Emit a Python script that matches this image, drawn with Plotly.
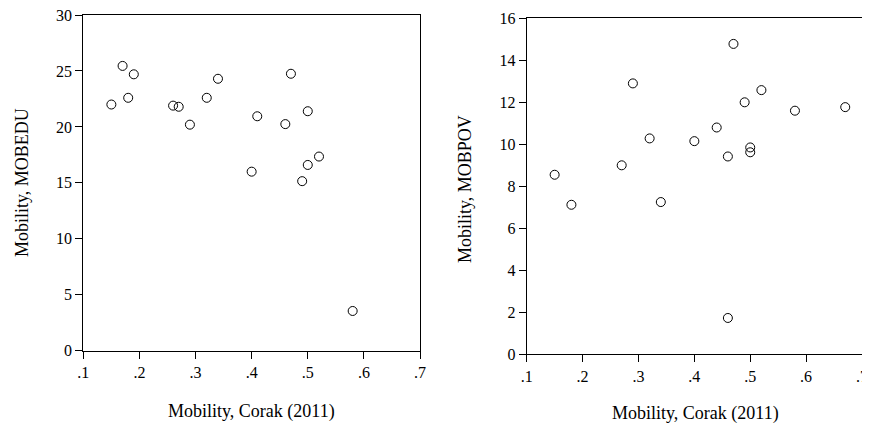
import plotly.graph_objects as go

# Data
corak_edu = [0.15, 0.17, 0.19, 0.18, 0.26, 0.27, 0.29, 0.32, 0.34, 0.40, 0.41, 0.46, 0.47, 0.50, 0.49, 0.50, 0.52, 0.58]
mobedu = [22.0, 25.45, 24.7, 22.6, 21.9, 21.8, 20.2, 22.6, 24.3, 16.0, 20.95, 20.25, 24.75, 21.4, 15.15, 16.6, 17.35, 3.55]

corak_pov = [0.15, 0.18, 0.27, 0.29, 0.32, 0.34, 0.40, 0.44, 0.46, 0.46, 0.47, 0.49, 0.50, 0.50, 0.52, 0.58, 0.67]
mobpov = [8.55, 7.12, 9.0, 12.9, 10.28, 7.25, 10.15, 10.8, 9.42, 1.73, 14.78, 12.0, 9.85, 9.62, 12.58, 11.6, 11.77]

x_tickvals = [0.1, 0.2, 0.3, 0.4, 0.5, 0.6, 0.7]
x_ticktext = [".1", ".2", ".3", ".4", ".5", ".6", ".7"]
edu_ticks = [0, 5, 10, 15, 20, 25, 30]
pov_ticks = [0, 2, 4, 6, 8, 10, 12, 14, 16]

x_title = "Mobility, Corak (2011)"
y_title_left = "Mobility, MOBEDU"
y_title_right = "Mobility, MOBPOV"

OFF = 8  # page body margin
W, H = 870 - OFF, 428 - OFF
FONT = "Liberation Serif"

marker = dict(symbol="circle-open", size=9, color="black", line=dict(width=1, color="black"))

fig = go.Figure()
fig.add_trace(go.Scatter(x=corak_edu, y=mobedu, mode="markers", marker=marker, xaxis="x", yaxis="y", showlegend=False, cliponaxis=False))
fig.add_trace(go.Scatter(x=corak_pov, y=mobpov, mode="markers", marker=marker, xaxis="x2", yaxis="y2", showlegend=False, cliponaxis=False))

def px_x(p):
    return (p - OFF) / W

def px_y(p):
    return 1 - (p - OFF) / H

axis_common = dict(showline=True, linecolor="black", linewidth=1, mirror=True,
                   ticks="outside", ticklen=7, tickcolor="black", tickwidth=1,
                   showgrid=False, zeroline=False, automargin=False,
                   ticklabeloverflow="allow",
                   tickfont=dict(family=FONT, size=16, color="black"))

fig.update_layout(
    width=W, height=H,
    margin=dict(l=0, r=0, t=0, b=0),
    paper_bgcolor="white", plot_bgcolor="white",
    xaxis=dict(domain=[px_x(83.3), px_x(420)], range=[0.1, 0.7], tickvals=x_tickvals, ticktext=x_ticktext, anchor="y", **axis_common),
    yaxis=dict(domain=[px_y(350.7), px_y(15)], range=[0, 30], tickvals=edu_ticks, anchor="x", **axis_common),
    xaxis2=dict(domain=[px_x(526.7), px_x(862)], range=[0.1, 0.7], tickvals=x_tickvals, ticktext=x_ticktext, anchor="y2", **axis_common),
    yaxis2=dict(domain=[px_y(354.3), px_y(18.3)], range=[0, 16], tickvals=pov_ticks, anchor="x2", **axis_common),
    annotations=[
        dict(text=x_title, x=px_x(251.7), y=px_y(411.7), xref="paper", yref="paper", showarrow=False,
             xanchor="center", yanchor="middle", font=dict(family=FONT, size=18, color="black")),
        dict(text=x_title, x=px_x(695.3), y=px_y(413), xref="paper", yref="paper", showarrow=False,
             xanchor="center", yanchor="middle", font=dict(family=FONT, size=18, color="black")),
        dict(text=y_title_left, x=px_x(22), y=px_y(183), xref="paper", yref="paper", showarrow=False, textangle=-90,
             xanchor="center", yanchor="middle", font=dict(family=FONT, size=18, color="black")),
        dict(text=y_title_right, x=px_x(465), y=px_y(189), xref="paper", yref="paper", showarrow=False, textangle=-90,
             xanchor="center", yanchor="middle", font=dict(family=FONT, size=18, color="black")),
    ],
)

fig.write_html("out.html")
